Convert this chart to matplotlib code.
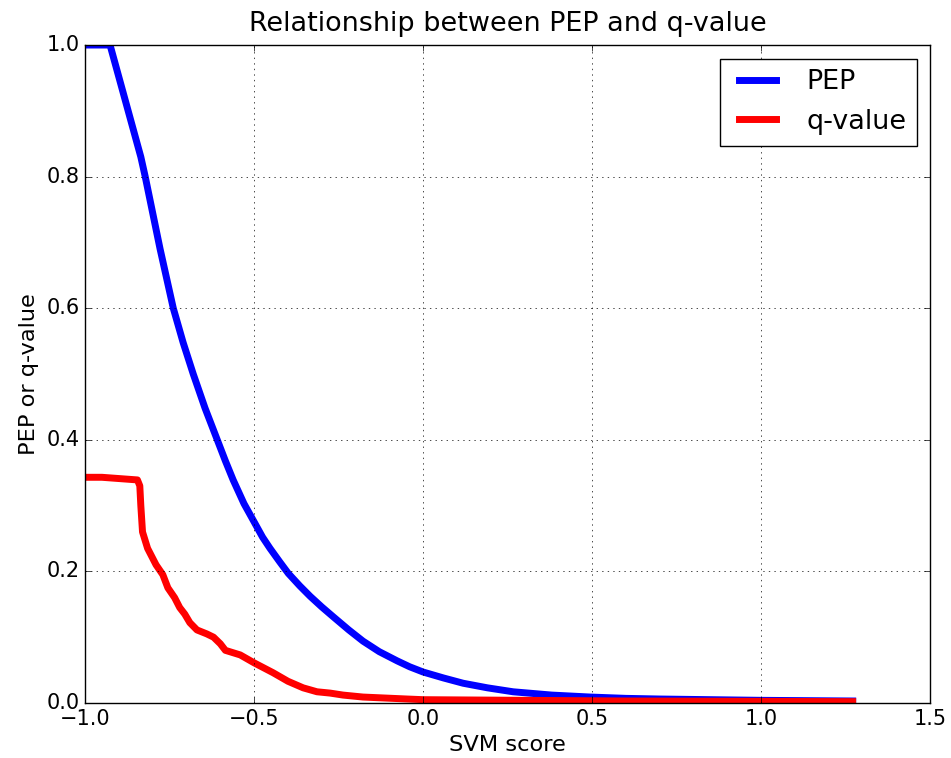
import matplotlib
matplotlib.use("Agg")
import matplotlib.pyplot as plt

# PEP curve
pep_x = [-1.0, -0.926, -0.835, -0.822, -0.778, -0.739, -0.71, -0.68, -0.645,
         -0.609, -0.585, -0.562, -0.53, -0.503, -0.475, -0.453, -0.425, -0.399,
         -0.365, -0.334, -0.30, -0.266, -0.22, -0.178, -0.13, -0.077, -0.04,
         0.0, 0.06, 0.118, 0.19, 0.266, 0.38, 0.494, 0.6, 0.7, 0.85, 1.0, 1.27]
pep_y = [1.0, 1.0, 0.83, 0.80, 0.69, 0.60, 0.548, 0.50, 0.448,
         0.40, 0.368, 0.339, 0.303, 0.278, 0.252, 0.235, 0.215, 0.197,
         0.178, 0.162, 0.146, 0.131, 0.111, 0.094, 0.078, 0.064, 0.055,
         0.047, 0.038, 0.030, 0.023, 0.017, 0.012, 0.009, 0.007, 0.006, 0.005, 0.004, 0.003]

# q-value curve
q_x = [-1.0, -0.95, -0.845, -0.838, -0.835, -0.83, -0.815, -0.805, -0.79, -0.77,
       -0.755, -0.735, -0.72, -0.705, -0.69, -0.669, -0.64, -0.62, -0.60, -0.585,
       -0.541, -0.50, -0.444, -0.40, -0.355, -0.314, -0.275, -0.237, -0.178, -0.047,
       0.0, 0.3, 0.6, 1.0, 1.27]
q_y = [0.343, 0.343, 0.339, 0.33, 0.30, 0.26, 0.235, 0.225, 0.21, 0.195,
       0.175, 0.16, 0.145, 0.135, 0.122, 0.111, 0.105, 0.1, 0.09, 0.08,
       0.073, 0.061, 0.046, 0.033, 0.023, 0.017, 0.015, 0.012, 0.009, 0.006,
       0.005, 0.004, 0.003, 0.0025, 0.002]

plt.style.use('classic')
plt.rcParams['font.size'] = 16.2

fig = plt.figure(figsize=(9.51, 7.58), dpi=100, facecolor='white')
ax = fig.add_axes([0.0894, 0.0726, 0.889, 0.868])

ax.plot(pep_x, pep_y, color='blue', lw=5, label='PEP', solid_joinstyle='round')
ax.plot(q_x, q_y, color='red', lw=5, label='q-value', solid_joinstyle='round')

ax.set_xlim(-1.0, 1.5)
ax.set_ylim(0.0, 1.0)
ax.set_xticks([-1.0, -0.5, 0.0, 0.5, 1.0, 1.5])
ax.set_yticks([0.0, 0.2, 0.4, 0.6, 0.8, 1.0])
ax.tick_params(labelsize=15)
ax.grid(True)

ax.set_title('Relationship between PEP and q-value', pad=10)
ax.set_xlabel('SVM score')
ax.set_ylabel('PEP or q-value')
ax.legend(loc='upper right')

fig.savefig('out.png', dpi=100, facecolor='white')
